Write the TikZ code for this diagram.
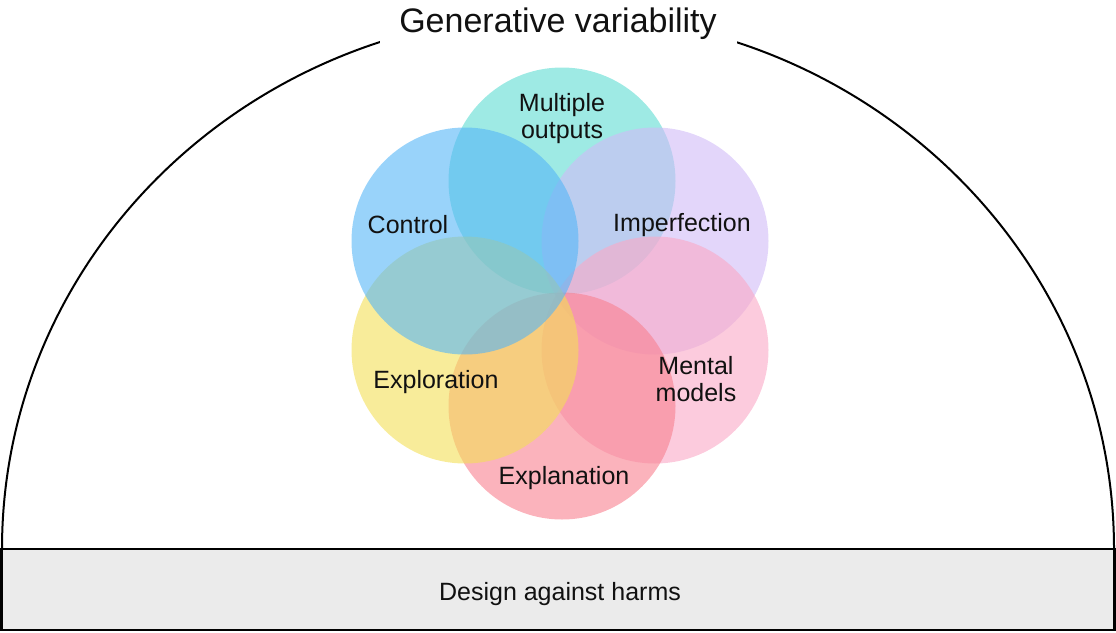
\documentclass[tikz,border=0pt]{standalone}
\usepackage{fontspec}
\setmainfont{Liberation Sans}
\usepackage{tikz}
\usetikzlibrary{positioning}
\definecolor{gvTeal}{RGB}{93,220,210}
\definecolor{gvBlue}{RGB}{85,182,247}
\definecolor{gvLilac}{RGB}{208,187,247}
\definecolor{gvPink}{RGB}{250,168,198}
\definecolor{gvRose}{RGB}{248,128,143}
\definecolor{gvYellow}{RGB}{243,223,87}
\definecolor{gvBase}{RGB}{235,235,235}
\definecolor{gvInk}{RGB}{17,17,17}

\begin{document}
\begin{tikzpicture}[x=1pt,y=-1pt,
      blob/.style={circle,minimum size=227,inner sep=0pt,fill opacity=0.6},
      lab/.style={align=center,text=gvInk,font=\fontsize{25}{27}\selectfont},
      head/.style={fill=white,text=gvInk,minimum width=357,minimum height=48,
        font=\fontsize{34}{40}\selectfont},
      floor/.style={draw=black,line width=2.5pt,fill=gvBase,minimum width=1113,
        minimum height=81,text=gvInk,font=\fontsize{25}{30}\selectfont}]
    \useasboundingbox (0,0) rectangle (1116,632);
    % dome
    \draw[line width=2pt] (2,549) arc[start angle=180,end angle=360,x radius=556,y radius=535];
    \node[head] (title) at (558,24) {Generative variability};
    % overlapping circles
    \foreach \name/\x/\y/\col in {
        outs/562/181/gvTeal,
        impf/655/241/gvLilac,
        ment/655/350/gvPink,
        expn/562/406/gvRose,
        expl/465/350/gvYellow,
        ctrl/465/241/gvBlue} {
      \node[blob,fill=\col] (\name) at (\x,\y) {};
    }
    \foreach \name/\x/\y/\txt in {
        outslab/562/119/{Multiple\\outputs},
        ctrllab/408/225/Control,
        impflab/682/225/Imperfection,
        mentlab/696/379/{Mental\\models},
        expnlab/564/478/Explanation,
        expllab/436/382/Exploration} {
      \node[lab] (\name) at (\x,\y) {\txt};
    }
    \node[floor] (harms) at (558,589.5) {};
    \node[text=gvInk,font=\fontsize{25}{30}\selectfont] (harmslab) at (560,594) {Design against harms};
  \end{tikzpicture}
\end{document}
